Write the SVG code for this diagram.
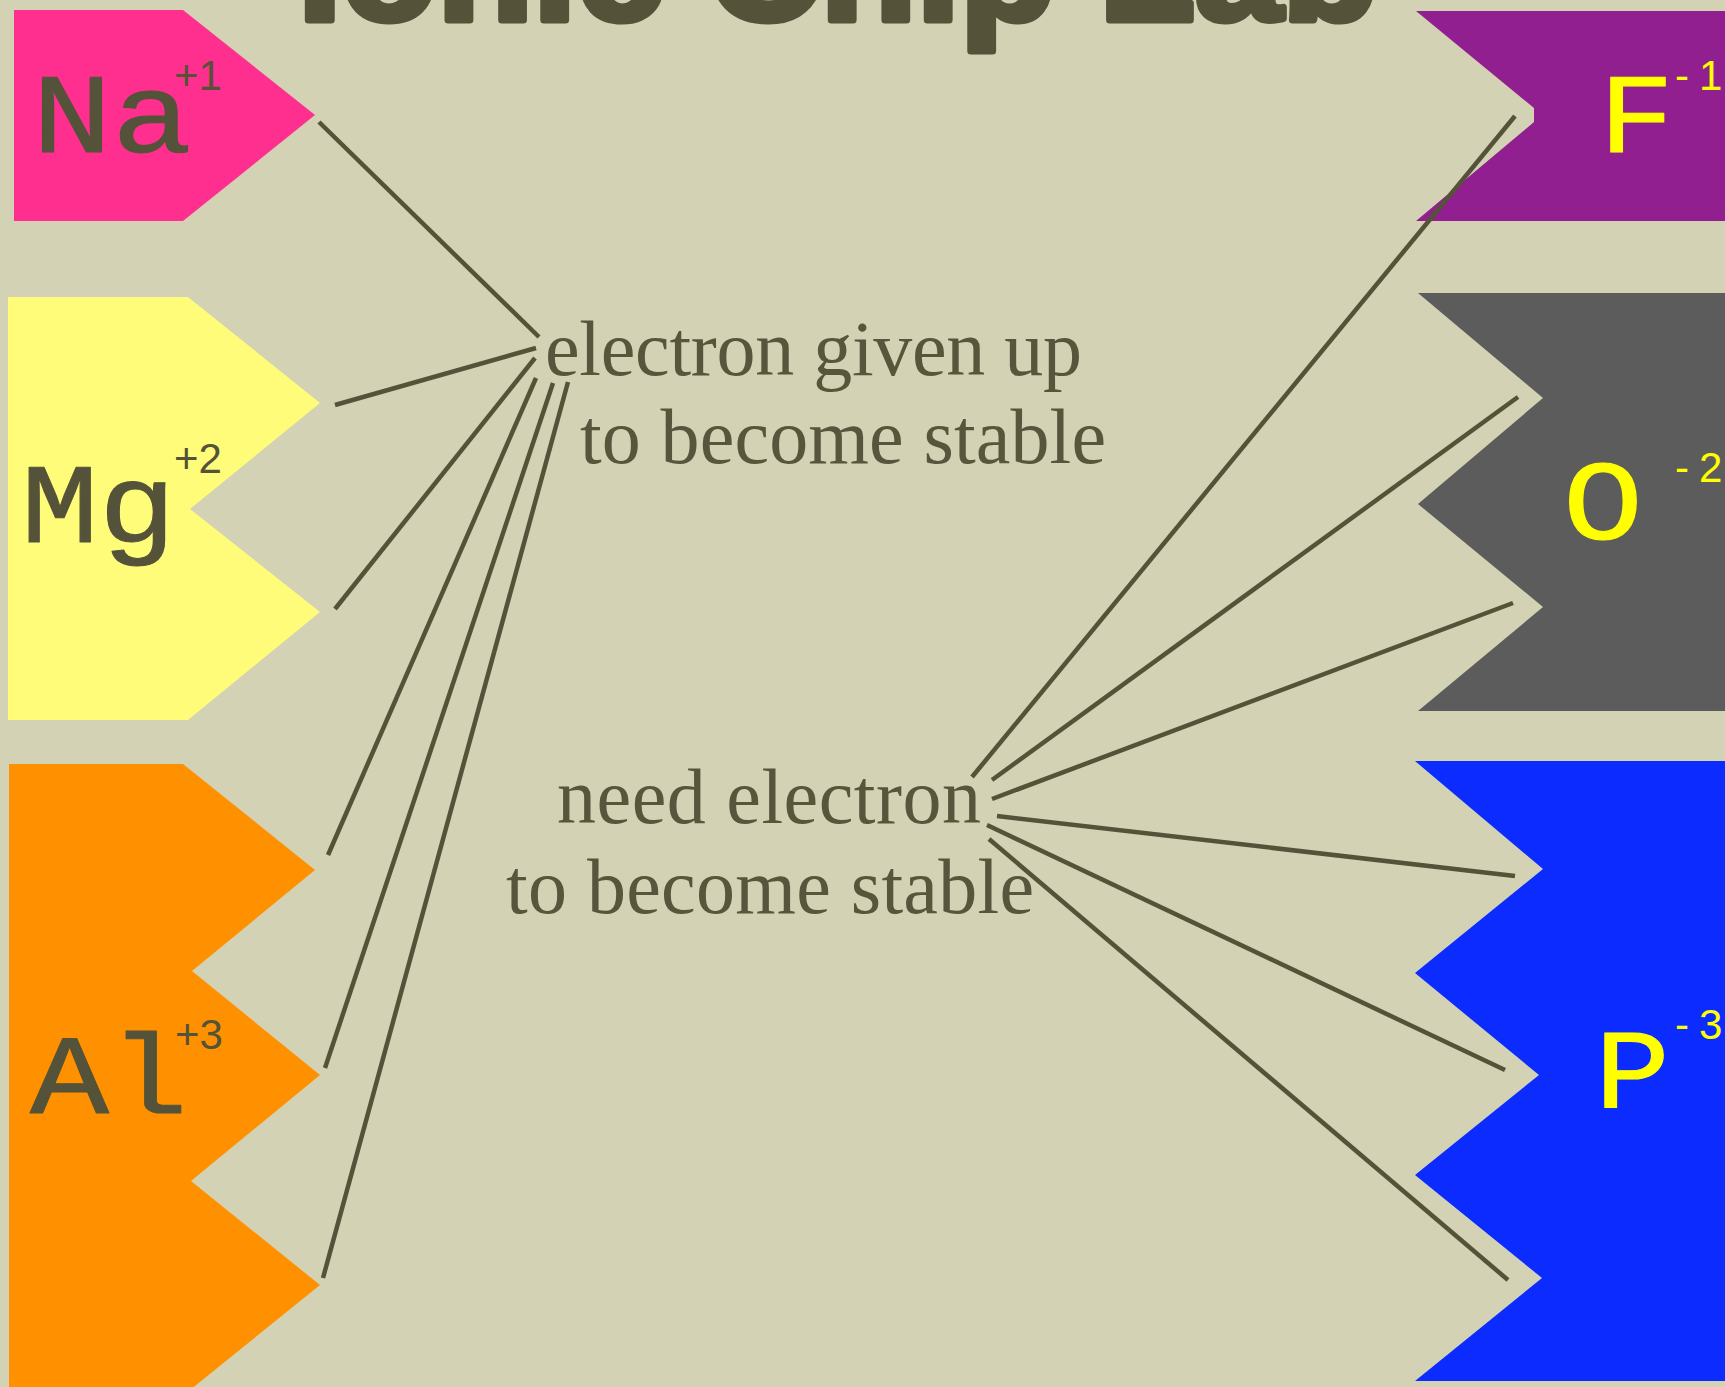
<svg xmlns="http://www.w3.org/2000/svg" width="1725" height="1387" viewBox="0 0 1725 1387">
<style>
.bg{fill:#d3d2b4}
.lbl{font-family:"Liberation Mono","Courier New",monospace;font-size:114px;stroke-width:1px;stroke-linejoin:round}
.sup{font-family:"Liberation Sans",Arial,sans-serif;font-size:42px}
.dark{fill:#55523a}
.lbl.dark{stroke:#55523a}
.yel{fill:#ffff00}
.lbl.yel{stroke:#ffff00}
.note{font-family:"Liberation Serif","Times New Roman",serif;font-size:78px;fill:#58553d}
.title{font-family:"Liberation Sans",Arial,sans-serif;font-weight:bold;font-size:150px;fill:#55523a;stroke:#55523a;stroke-width:7px;stroke-linejoin:round}
.conn line{stroke:#55523a;stroke-width:4.5;stroke-linecap:butt}
</style>
<rect class="bg" x="0" y="0" width="1725" height="1387"/>
<g id="title">
<text class="title" x="298" y="20" textLength="1080" lengthAdjust="spacingAndGlyphs">Ionic Chip Lab</text>
</g>
<g id="node-na">
<polygon points="14,10 183,10 315,115 183,221 14,221" fill="#ff2f8f"/>
<text class="lbl dark" x="32" y="152" textLength="160" lengthAdjust="spacingAndGlyphs">Na</text>
<text class="sup dark" x="174" y="90">+1</text>
</g>
<g id="node-mg">
<polygon points="8,297 188,297 320,403 190,509 320,612 188,720 8,720" fill="#fffc7a"/>
<text class="lbl dark" x="21" y="542" textLength="155" lengthAdjust="spacingAndGlyphs">Mg</text>
<text class="sup dark" x="174" y="473">+2</text>
</g>
<g id="node-al">
<polygon points="9,764 183,764 315,870 192,971 320,1075 191,1181 320,1285 190,1390 9,1390" fill="#ff9100"/>
<text class="lbl dark" x="30" y="1113" textLength="158" lengthAdjust="spacingAndGlyphs">Al</text>
<text class="sup dark" x="175" y="1049">+3</text>
</g>
<g id="node-f">
<polygon points="1416,11 1725,11 1725,221 1416,221 1534,122 1534,108" fill="#911f8f"/>
<text class="lbl yel" x="1599" y="152" textLength="75" lengthAdjust="spacingAndGlyphs">F</text>
<text class="sup yel" x="1675" y="90">-<tspan x="1699">1</tspan></text>
</g>
<g id="node-o">
<polygon points="1418,293 1725,293 1725,711 1418,711 1543,607 1418,504 1543,398" fill="#5c5c5c"/>
<text class="lbl yel" x="1563" y="539" textLength="80" lengthAdjust="spacingAndGlyphs">O</text>
<text class="sup yel" x="1675" y="482">-<tspan x="1699">2</tspan></text>
</g>
<g id="node-p">
<polygon points="1415,761 1725,761 1725,1381 1415,1381 1542,1278 1415,1175 1539,1075 1415,973 1543,869" fill="#0c2cff"/>
<text class="lbl yel" x="1595" y="1107" textLength="75" lengthAdjust="spacingAndGlyphs">P</text>
<text class="sup yel" x="1675" y="1039">-<tspan x="1699">3</tspan></text>
</g>
<g id="node-given">
<text class="note" x="545" y="375" textLength="537">electron given up</text>
<text class="note" x="580" y="463" textLength="526">to become stable</text>
</g>
<g id="node-need">
<text class="note" x="557" y="823" textLength="424">need electron</text>
<text class="note" x="506" y="913" textLength="528">to become stable</text>
</g>
<g id="connectors" class="conn">
<line x1="319" y1="122" x2="539" y2="337"/>
<line x1="335" y1="405" x2="536" y2="348"/>
<line x1="335" y1="609" x2="535" y2="358"/>
<line x1="328" y1="855" x2="536" y2="378"/>
<line x1="325" y1="1068" x2="553" y2="383"/>
<line x1="323" y1="1278" x2="568" y2="382"/>
<line x1="972" y1="777" x2="1515" y2="116"/>
<line x1="992" y1="780" x2="1518" y2="397"/>
<line x1="992" y1="799" x2="1513" y2="603"/>
<line x1="997" y1="816" x2="1515" y2="876"/>
<line x1="987" y1="825" x2="1505" y2="1070"/>
<line x1="989" y1="839" x2="1508" y2="1280"/>
</g>
</svg>
